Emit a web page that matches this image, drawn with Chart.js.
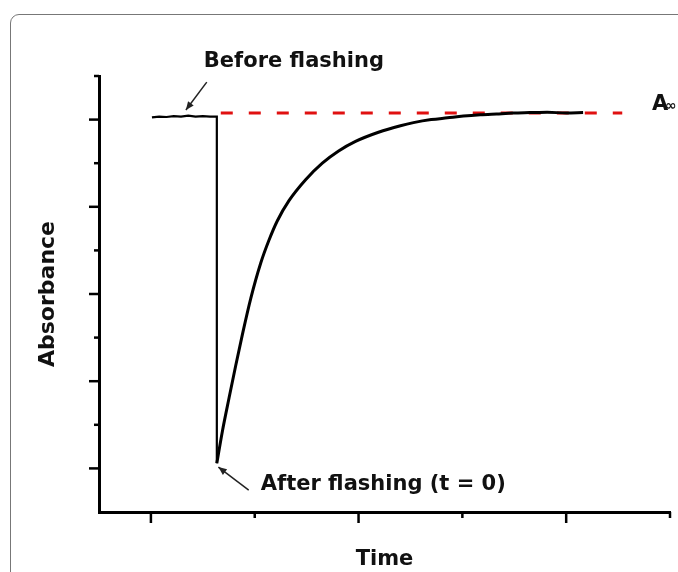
<!DOCTYPE html>
<html>
<head>
<meta charset="utf-8">
<script src="https://cdn.jsdelivr.net/npm/chart.js@4"></script>
<style>
  body { margin: 0; background: #fff; overflow: hidden; }
  #frame { position: absolute; left: 10px; top: 14px; width: 720px; height: 620px;
           border: 1px solid #777; border-radius: 9px; }
  #canvas { position: absolute; left: 0; top: 0; }
</style>
</head>
<body>
<div id="frame"></div>
<canvas id="canvas" width="678" height="572"></canvas>
<script>
// absorbance trace before the flash, ending with the drop at t = 0
const beforeX = [0.01, 0.08, 0.15, 0.22, 0.29, 0.36, 0.43, 0.50, 0.57, 0.635, 0.635];
const beforeY = [9.05, 9.07, 9.06, 9.08, 9.07, 9.09, 9.07, 9.08, 9.07, 9.07, 1.12];

// recovery after the flash
const afterX = [0.635, 0.689, 0.753, 0.817, 0.882, 0.962, 1.058, 1.135, 1.218, 1.330, 1.490, 1.651,
                1.808, 1.971, 2.192, 2.404, 2.529, 2.70, 2.856, 3.010, 3.173, 3.33, 3.490, 3.65,
                3.817, 4.0, 4.163];
const afterY = [1.12, 1.86, 2.62, 3.36, 4.08, 4.90, 5.71, 6.22, 6.68, 7.14, 7.62, 8.00,
                8.28, 8.50, 8.71, 8.86, 8.93, 9.00, 9.04, 9.08, 9.11, 9.13, 9.15, 9.16,
                9.17, 9.15, 9.16];

// A-infinity level (red dashed)
const infX = [0.673, 4.54];
const infY = [9.15, 9.15];

// axis tick values (major ones get the longer mark)
const xTicks = [0, 1, 2, 3, 4, 5];
const xMajor = [0, 2, 4];
const yTicks = [1, 2, 3, 4, 5, 6, 7, 8, 9, 10];
const yMajor = [1, 3, 5, 7, 9];

const FONT = 'DejaVu Sans';

function pts(xs, ys) {
  return xs.map((x, i) => ({ x: x, y: ys[i] }));
}

function arrow(ctx, x1, y1, x2, y2) {
  let a = Math.atan2(y2 - y1, x2 - x1);
  ctx.beginPath();
  ctx.moveTo(x1, y1);
  ctx.lineTo(x2, y2);
  ctx.stroke();
  ctx.beginPath();
  ctx.moveTo(x2, y2);
  ctx.lineTo(x2 - 9 * Math.cos(a - 0.4), y2 - 9 * Math.sin(a - 0.4));
  ctx.lineTo(x2 - 9 * Math.cos(a + 0.4), y2 - 9 * Math.sin(a + 0.4));
  ctx.closePath();
  ctx.fill();
}

// tick marks outside the axes + text annotations
const annotate = {
  id: 'annotate',
  afterDraw(chart) {
    const ctx = chart.ctx;
    const xs = chart.scales.x, ys = chart.scales.y;
    const px = v => xs.getPixelForValue(v);
    const py = v => ys.getPixelForValue(v);
    const bottom = chart.chartArea.bottom, left = chart.chartArea.left;
    ctx.save();
    ctx.strokeStyle = '#000';
    ctx.fillStyle = '#000';
    ctx.lineWidth = 2.5;
    xTicks.forEach(v => {
      let len = xMajor.includes(v) ? 11 : 6;
      ctx.beginPath();
      ctx.moveTo(px(v), bottom);
      ctx.lineTo(px(v), bottom + len);
      ctx.stroke();
    });
    yTicks.forEach(v => {
      let len = yMajor.includes(v) ? 10 : 5;
      ctx.beginPath();
      ctx.moveTo(left, py(v));
      ctx.lineTo(left - len, py(v));
      ctx.stroke();
    });

    ctx.lineWidth = 1.5;
    ctx.strokeStyle = '#222';
    ctx.fillStyle = '#222';
    arrow(ctx, px(0.538), py(9.86), px(0.337), py(9.22));
    arrow(ctx, px(0.942), py(0.50), px(0.65), py(1.03));

    ctx.fillStyle = '#111';
    ctx.textBaseline = 'alphabetic';
    ctx.font = 'bold 21px "' + FONT + '"';
    ctx.fillText('Before flashing', px(0.51), py(10.21));
    ctx.fillText('After flashing (t = 0)', px(1.058), py(0.505));
    ctx.fillText('A', px(4.827), py(9.22));
    ctx.font = 'bold 14px "' + FONT + '"';
    ctx.fillText('\u221e', px(4.827) + 13, py(9.22));
    ctx.restore();
  }
};

new Chart(document.getElementById('canvas'), {
  type: 'line',
  data: {
    datasets: [
      { data: pts(beforeX, beforeY), borderColor: '#000', borderWidth: 2.2, tension: 0 },
      { data: pts(afterX, afterY), borderColor: '#000', borderWidth: 3, cubicInterpolationMode: 'monotone' },
      { data: pts(infX, infY), borderColor: '#e01010', borderWidth: 3, borderDash: [12, 16], tension: 0 }
    ]
  },
  options: {
    responsive: false,
    animation: false,
    elements: { point: { radius: 0 } },
    layout: { padding: { left: 10, top: 76, right: 8, bottom: 0 } },
    plugins: { legend: { display: false }, tooltip: { enabled: false } },
    scales: {
      x: {
        type: 'linear', min: -0.5, max: 5,
        ticks: { display: false },
        grid: { display: false, drawTicks: false },
        border: { color: '#000', width: 3 },
        title: {
          display: true, text: 'Time', color: '#111',
          font: { family: FONT, size: 21, weight: 'bold', lineHeight: 1 },
          padding: { top: 37.5, bottom: 1.5 }
        }
      },
      y: {
        type: 'linear', min: 0, max: 10,
        ticks: { display: false },
        grid: { display: false, drawTicks: false },
        border: { color: '#000', width: 3 },
        title: {
          display: true, text: 'Absorbance', color: '#111',
          font: { family: FONT, size: 22, weight: 'bold', lineHeight: 1 },
          padding: { top: 27, bottom: 40 }
        }
      }
    }
  },
  plugins: [annotate]
});
</script>
</body>
</html>
